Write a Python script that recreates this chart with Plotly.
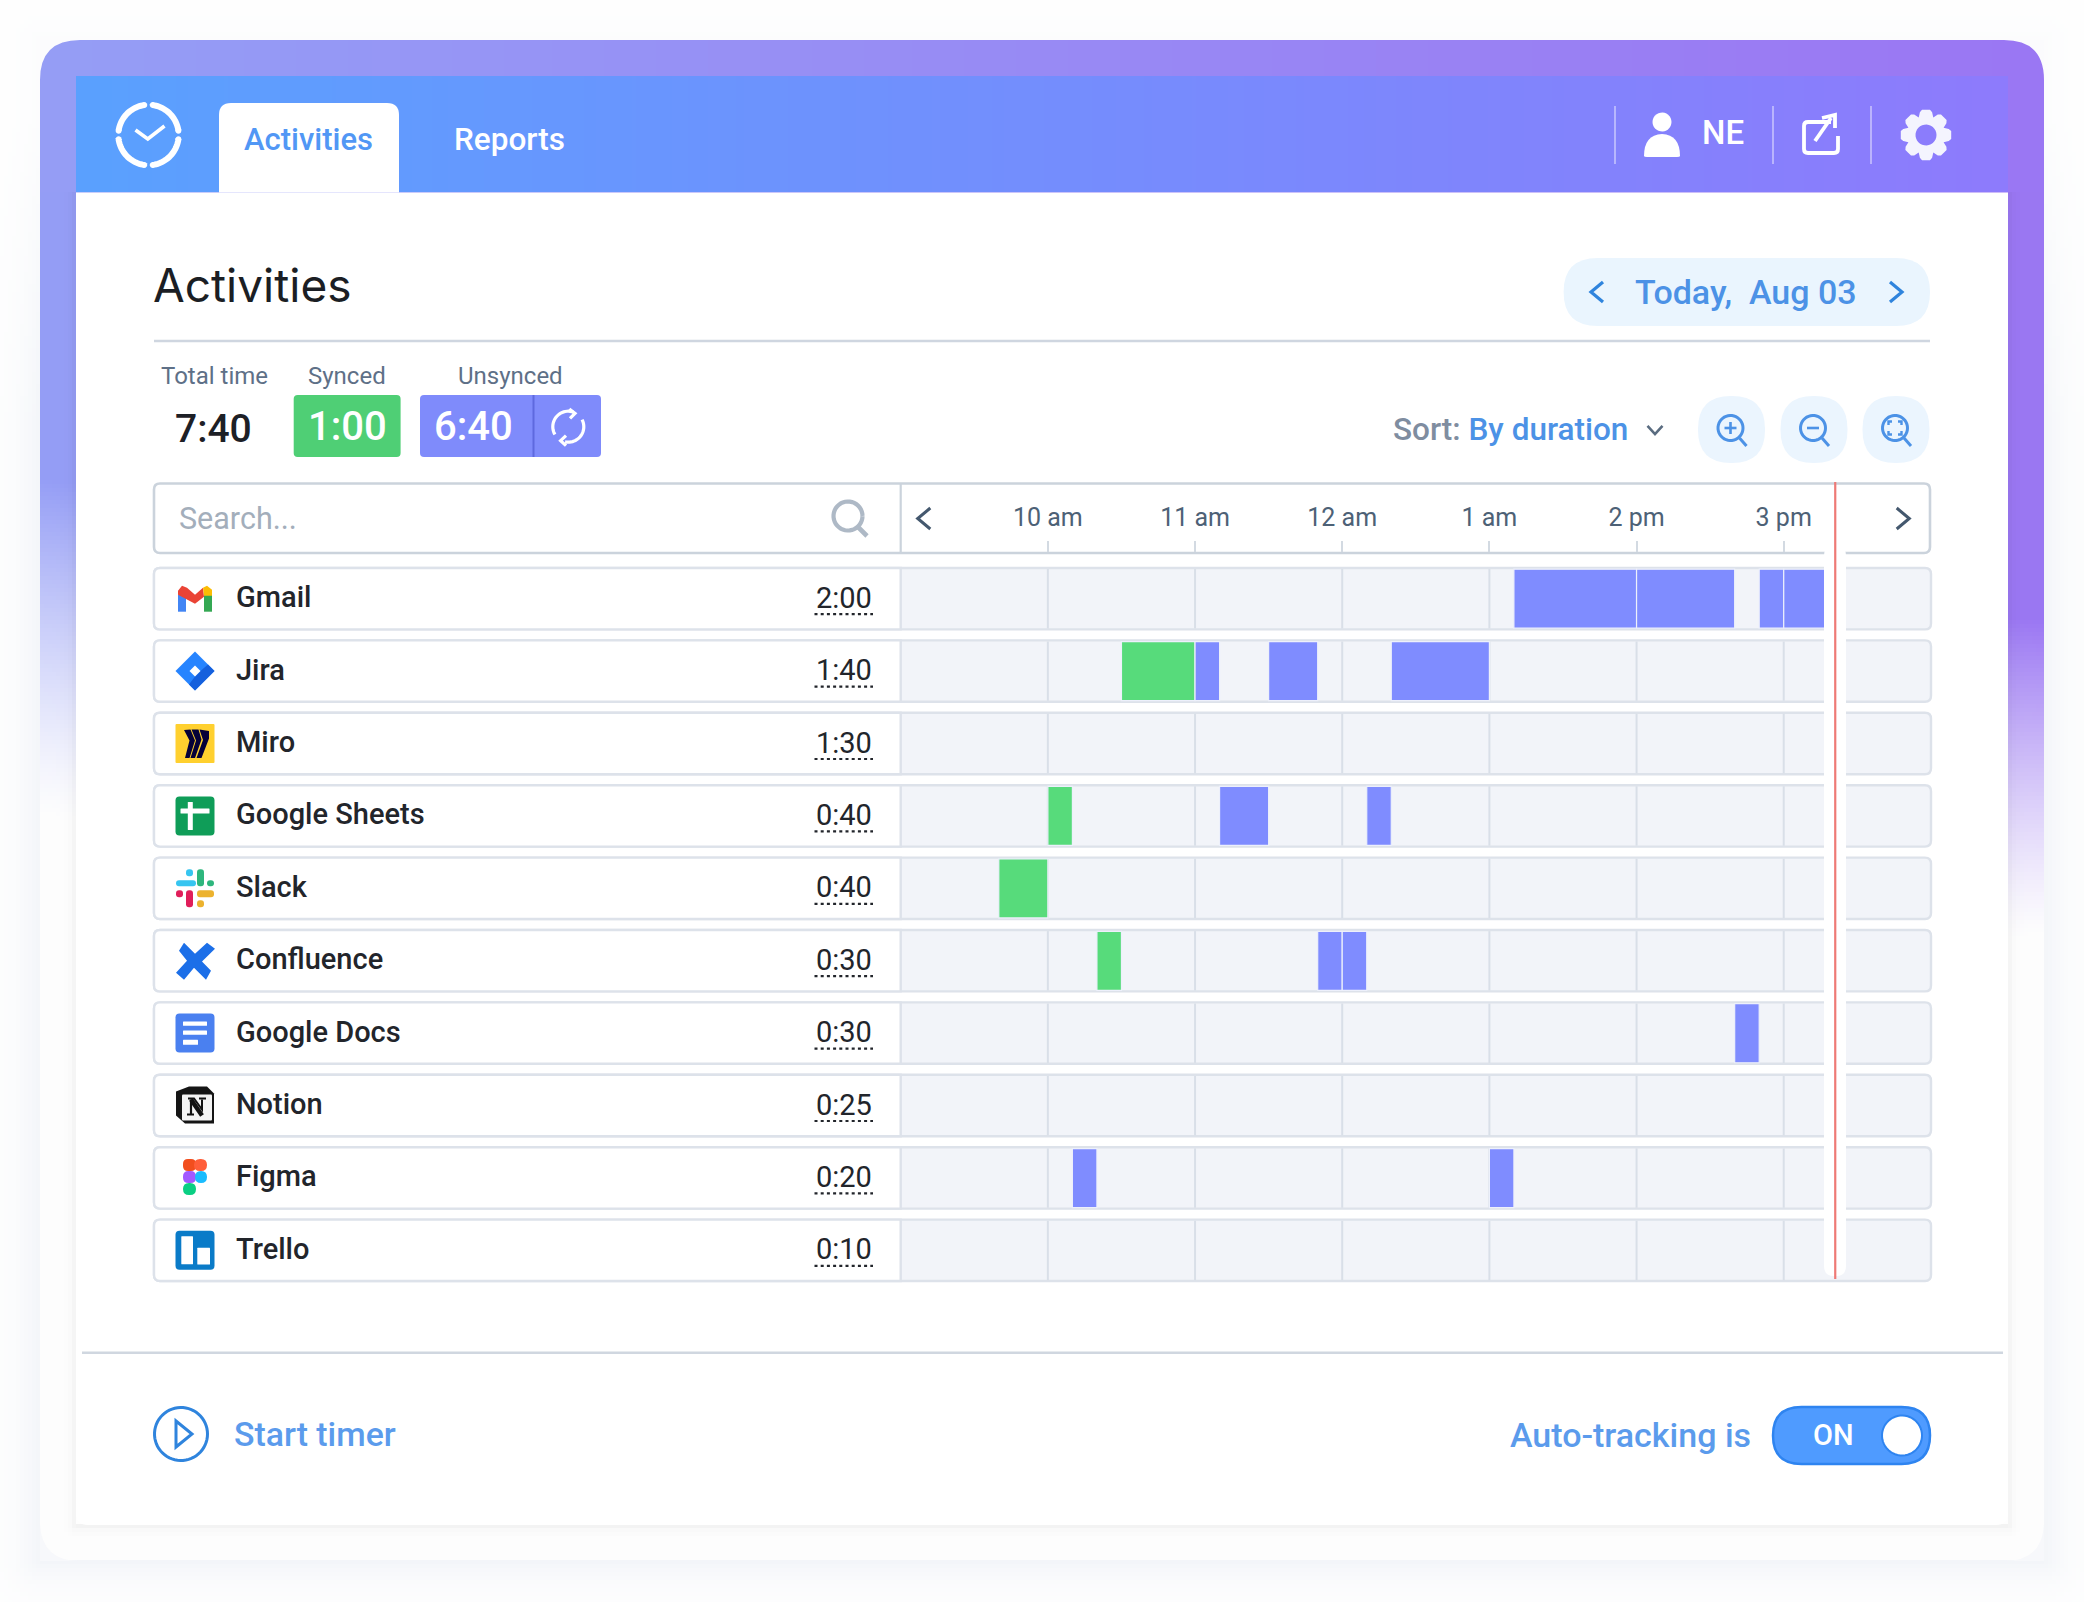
import numpy as np
import plotly.graph_objects as go

W, H = 2084, 1602

# app list and totals, top to bottom
apps = ["Gmail", "Jira", "Miro", "Google Sheets", "Slack", "Confluence",
        "Google Docs", "Notion", "Figma", "Trello"]
totals = ["2:00", "1:40", "1:30", "0:40", "0:40", "0:30", "0:30", "0:25", "0:20", "0:10"]

# tracked blocks, read from the timeline
synced_app = ["Jira", "Google Sheets", "Slack", "Confluence"]
synced_start = ["10:30", "10:00", "9:40", "10:20"]
synced_end = ["11:00", "10:10", "10:00", "10:30"]

unsynced_app = ["Gmail", "Gmail", "Gmail", "Gmail", "Jira", "Jira", "Jira",
                "Google Sheets", "Google Sheets", "Confluence", "Confluence",
                "Google Docs", "Figma", "Figma"]
unsynced_start = ["13:10", "14:00", "14:50", "15:00", "11:00", "11:30", "12:20",
                  "11:10", "12:10", "11:50", "12:00", "14:40", "10:10", "13:00"]
unsynced_end = ["14:00", "14:40", "15:00", "15:20", "11:10", "11:50", "13:00",
                "11:30", "12:20", "12:00", "12:10", "14:50", "10:20", "13:10"]

hour_ticks = ["10:00", "11:00", "12:00", "13:00", "14:00", "15:00"]
hour_labels = ["10 am", "11 am", "12 am", "1 am", "2 pm", "3 pm"]
view_start, view_end = "9:00", "16:00"
now_time = "15:21"


def minutes(t):
    h, m = t.split(":")
    return int(h) * 60 + int(m)


GREEN = "#57DB7B"
BLUE = "#7F8CFF"
ACCENT = "#4C92E6"
ROW_BG = "#F2F4F9"
BORDER = "#DDE2EA"

shapes = []
notes = []


def fx(x, y, x0=0, y0=0):
    return f"{x0 + x:.1f},{y0 + y:.1f}"


def rr(x0, y0, x1, y1, r):
    return (f"M{x0 + r},{y0} L{x1 - r},{y0} Q{x1},{y0} {x1},{y0 + r} L{x1},{y1 - r} "
            f"Q{x1},{y1} {x1 - r},{y1} L{x0 + r},{y1} Q{x0},{y1} {x0},{y1 - r} "
            f"L{x0},{y0 + r} Q{x0},{y0} {x0 + r},{y0} Z")


def arc(cx, cy, r, a0, a1, n=24, move=True):
    a = np.radians(np.linspace(a0, a1, n))
    pts = [f"{cx + r * np.cos(t):.2f},{cy + r * np.sin(t):.2f}" for t in a]
    return ("M" if move else "L") + " L".join(pts)


def poly(cx, cy, pts, close=True):
    s = "M" + " L".join(fx(x, y, cx, cy) for x, y in pts)
    return s + (" Z" if close else "")


def path(d, fill=None, line=None, w=0, layer="below", xref="x2", yref="y2", opacity=None):
    s = dict(type="path", path=d, xref=xref, yref=yref, layer=layer,
             fillcolor=fill if fill else "rgba(0,0,0,0)",
             line=dict(color=line if line else "rgba(0,0,0,0)", width=w))
    if opacity is not None:
        s["opacity"] = opacity
    shapes.append(s)


def seg(x0, y0, x1, y1, color, w=2, dash=None):
    shapes.append(dict(type="line", x0=x0, y0=y0, x1=x1, y1=y1, xref="x2", yref="y2", layer="below",
                       line=dict(color=color, width=w, dash=dash)))


def txt(x, y, text, size, color, anchor="center", weight=400, family="Roboto"):
    notes.append(dict(x=x, y=y, xref="x2", yref="y2", text=text, showarrow=False,
                      xanchor=anchor, yanchor="middle",
                      font=dict(family=family, size=size, color=color, weight=weight)))


def chevron(cx, cy, d, color, w=3.2, size=10):
    if d == "left":
        pts = [(size * .6, -size), (-size * .6, 0), (size * .6, size)]
    elif d == "right":
        pts = [(-size * .6, -size), (size * .6, 0), (-size * .6, size)]
    else:
        pts = [(-size, -size * .55), (0, size * .55), (size, -size * .55)]
    path(poly(cx, cy, pts, close=False), line=color, w=w)


def magnifier(cx, cy, kind):
    path(arc(cx - 1, cy - 2, 12.5, 0, 360, 40), line=ACCENT, w=3)
    seg(cx + 8, cy + 8, cx + 15, cy + 16, ACCENT, 3)
    if kind in ("plus", "minus"):
        seg(cx - 7, cy - 2, cx + 5, cy - 2, ACCENT, 2.6)
    if kind == "plus":
        seg(cx - 1, cy - 8, cx - 1, cy + 4, ACCENT, 2.6)
    if kind == "fit":
        for sx, sy in [(-1, -1), (1, -1), (1, 1), (-1, 1)]:
            path(poly(cx - 1, cy - 2, [(sx * 3, sy * 6.5), (sx * 6.5, sy * 6.5), (sx * 6.5, sy * 3)], close=False),
                 line=ACCENT, w=2.4)


# background picture: coloured frame fading to white, soft shadows, header band
bx = np.arange(0, W + 4, 4) + 2.0
by = np.arange(0, H + 4, 4) + 2.0
gx, gy = np.meshgrid(bx, by)
left = np.array([0x95, 0x9E, 0xF6], float)
right = np.array([0x9B, 0x77, 0xF3], float)
t = np.clip((gx - 40) / 2004, 0, 1)[..., None]
frame_rgb = left * (1 - t) + right * t
fade_a = 480 + 140 * t[..., 0]
fade_b = 820 + 120 * t[..., 0]
alpha = (np.clip((fade_b - gy) / (fade_b - fade_a), 0, 1) ** 1.25)[..., None]
img = frame_rgb * alpha + np.array([254, 254, 254.0]) * (1 - alpha)
# panel shadow inside the frame
pdx = np.maximum(np.maximum(76 - gx, gx - 2008), 0)
pdy = np.maximum(gy - 1525, 0)
pd_out = np.hypot(pdx, pdy)
pshade = np.where((pd_out > 0) & (gy > 192), 0.05 * np.exp(-pd_out / 5), 0)[..., None]
img = img * (1 - pshade)
# outer shadow
dx = np.maximum(np.maximum(40 - gx, gx - 2044), 0)
dy = np.maximum(np.maximum(40 - gy, gy - 1561), 0)
dist = np.hypot(dx, dy)
outside = dist > 0
shade = 12 * np.exp(-dist / 22) * np.clip((gy - 20) / 400, 0.25, 1)
out = np.stack([255 - shade * 1.0, 255 - shade * .8, 255 - shade * .5], axis=-1)
img[outside] = out[outside]
hdr = (gx >= 76) & (gx < 2008) & (gy >= 76) & (gy < 193)
ht = ((gx - 76) / 1932)[..., None]
hdr_rgb = np.array([0x5A, 0xA1, 0xFF], float) * (1 - ht) + np.array([0x8E, 0x7B, 0xFC], float) * ht
img[hdr] = hdr_rgb[hdr]
img = np.clip(img, 0, 255).astype(np.uint8)

# frame corners
for (cx, cy, sx, sy, c) in [(40, 40, 1, 1, "#FBFBFD"), (2044, 40, -1, 1, "#FBFBFD"),
                            (40, 1561, 1, -1, "#F7F8FB"), (2044, 1561, -1, -1, "#F7F8FB")]:
    r = 40
    path(f"M{cx},{cy} L{cx + sx * r},{cy} Q{cx},{cy} {cx},{cy + sy * r} Z", fill=c)

# main panel
path(f"M76,192.5 L2008,192.5 L2008,1513 Q2008,1525 1996,1525 L88,1525 Q76,1525 76,1513 Z", fill="#FFFFFF")

# header
path(f"M219,192.5 L219,115 Q219,103 231,103 L387,103 Q399,103 399,115 L399,192.5 Z", fill="#FFFFFF")
txt(308, 139.5, "Activities", 31, "#5197F5", weight=500)
txt(509, 139.5, "Reports", 31.5, "#FFFFFF", weight=500)
for a0, a1 in [(-82, -8), (8, 82), (98, 172), (188, 262)]:
    path(arc(148.5, 135, 30.2, a0, a1), line="#FFFFFF", w=6)
    for a in (a0, a1):
        ex = 148.5 + 30.2 * np.cos(np.radians(a))
        ey = 135 + 30.2 * np.sin(np.radians(a))
        path(arc(ex, ey, 3, 0, 360, 12) + " Z", fill="#FFFFFF")
path(poly(148.5, 135, [(-13, -5), (-0.7, 4), (16, -9)], close=False), line="#FFFFFF", w=3.6)
for sx in [1615, 1773, 1871]:
    seg(sx, 106, sx, 164, "rgba(255,255,255,0.42)", 2)
path(arc(1662, 122, 9.5, 0, 360, 30) + " Z", fill="#FFFFFF")
path("M1644,156 Q1644,135 1662,134 Q1680,135 1680,156 Q1680,157 1677,157 L1647,157 Q1644,157 1644,156 Z", fill="#FFFFFF")
txt(1723, 132, "NE", 33, "#FFFFFF", weight=500)
path(f"M1831,122 L1808,122 Q1804,122 1804,126 L1804,149 Q1804,153 1808,153 L1834,153 Q1838,153 1838,149 L1838,136",
     line="#FFFFFF", w=3.8)
path(poly(0, 0, [(1815, 141), (1831, 118)], close=False), line="#FFFFFF", w=3.8)
path(poly(0, 0, [(1822, 118), (1835, 115), (1835, 128)], close=False), line="#FFFFFF", w=3.8)
gear = []
for k in range(8):
    c = k * 45 - 90
    for off, rad in [(-15, 23.5), (-9, 25.5), (9, 25.5), (15, 23.5), (22.5, 19)]:
        a = np.radians(c + off)
        gear.append((rad * np.cos(a), rad * np.sin(a)))
hole = arc(1926, 135, 10.5, 360, 0, 30)
path(poly(1926, 135, gear) + " " + hole + " Z", fill="#F4F4FE")

# title block
txt(151, 285, "Activities", 46, "#1B1E24", anchor="left", family="Inter")
path(rr(1563.6, 258, 1930, 326, 34), fill="#EAF5FE")
txt(1746, 292, "Today,  Aug 03", 34, ACCENT, weight=500)
chevron(1597, 292, "left", "#2F84DD")
chevron(1896, 292, "right", "#2F84DD")
seg(154, 341, 1930, 341, "#CFD6E0", 2.6)

# totals
txt(214, 376, "Total time", 24, "#5E7087")
txt(346.5, 376, "Synced", 24, "#5E7087")
txt(510, 376, "Unsynced", 24, "#5E7087")
txt(213.5, 429, "7:40", 39, "#1D2026", weight=500)
path(rr(293.7, 395, 400.6, 457, 4), fill="#4FCF75")
txt(347, 426, "1:00", 40, "#FFFFFF", weight=500)
path(rr(420, 395, 601, 457, 4), fill="#7F8BFB")
seg(533.5, 395, 533.5, 457, "#5E69DF", 2)
txt(473, 426, "6:40", 40, "#FFFFFF", weight=500)
path(arc(568.3, 426.7, 15.5, 150, 289), line="#FFFFFF", w=3.2)
path(arc(568.3, 426.7, 15.5, -27, 102), line="#FFFFFF", w=3.2)
path(poly(568.3, 426.7, [(1, -17.7), (6.7, -13.3), (1.7, -8.3)], close=False), line="#FFFFFF", w=3.2)
path(poly(568.3, 426.7, [(-2.3, 9), (-7.7, 14), (-2.3, 19)], close=False), line="#FFFFFF", w=3.2)

# sort and zoom controls
txt(1391, 429.5, f"Sort: <span style='color:{ACCENT}'>By duration</span>", 31.5, "#7F8DA0", anchor="left", weight=500)
chevron(1655, 430, "down", "#5A6C80", w=2.6, size=7.5)
for cx, kind in [(1731.5, "plus"), (1814, "minus"), (1896, "fit")]:
    path(rr(cx - 33.5, 396, cx + 33.5, 463, 33), fill="#EBF5FE")
    magnifier(cx, 430, kind)

# search bar and time header
path(rr(154, 483.5, 1930, 553, 6), fill="#FFFFFF", line="#CBD3DC", w=2.6)
seg(900.7, 484, 900.7, 553, "#CBD3DC", 2.2)
txt(176.5, 518.5, "Search...", 30.5, "#A3AEBB", anchor="left")
path(arc(848, 516, 14.5, 0, 360, 40), line="#AEB9C6", w=4.2)
seg(858, 527, 867, 536, "#AEB9C6", 4.6)
chevron(924, 518.5, "left", "#44586E", w=3, size=10.5)
chevron(1903, 518.5, "right", "#44586E", w=3, size=10.5)

# rows
ROW0, PITCH = 598.7, 72.4
for i, (app, total) in enumerate(zip(apps, totals)):
    cy = ROW0 + PITCH * i
    top, bot = cy - 30.7, cy + 30.7
    path(rr(154, top, 1931, bot, 6), fill=ROW_BG, line=BORDER, w=2.4)
    path(f"M900.7,{top} L160,{top} Q154,{top} 154,{top + 6} L154,{bot - 6} Q154,{bot} 160,{bot} L900.7,{bot} Z",
         fill="#FFFFFF", line=BORDER, w=2.4)
    txt(233.5, cy - 1.5, app, 29, "#22252B", anchor="left", weight=500)
    txt(873.5, cy - 1, total, 29, "#22252B", anchor="right", weight=400)
    seg(814.5, cy + 15.5, 873, cy + 15.5, "#22252B", 2.2, dash="3px,3.2px")

    ix, iy = 195, cy
    if app == "Gmail":
        path(poly(ix, iy, [(-17, -4), (-9, -4), (-9, 13), (-17, 13)]), fill="#4285F4")
        path(poly(ix, iy, [(9, -4), (17, -4), (17, 13), (9, 13)]), fill="#34A853")
        path(poly(ix, iy, [(-17, -8), (-13, -13), (-8, -11), (0, -4), (8, -11), (9, -2), (0, 5), (-17, -4)]), fill="#EA4335")
        path(poly(ix, iy, [(8, -11), (12, -13), (17, -9), (17, -3), (9, -3)]), fill="#FBBC04")
    elif app == "Jira":
        path(poly(ix, iy, [(0, -19.5), (19.5, 0), (0, 19.5), (-19.5, 0)]), fill="#2684FF")
        path(poly(ix, iy, [(13, -6.5), (19.5, 0), (0, 19.5), (-6, 13.5), (0, 5.5), (5.5, 0)]), fill="#1560DD")
        path(poly(ix, iy, [(0, -5.5), (5.5, 0), (0, 5.5), (-5.5, 0)]), fill="#FFFFFF")
    elif app == "Miro":
        path(rr(ix - 19.5, iy - 19.5, ix + 19.5, iy + 19.5, 1), fill="#FFD02F")
        for blade in [[(-11, -13.5), (-4.5, -14), (0, -3), (-5.5, 14.5), (-10, 14.5), (-5.5, -3)],
                      [(-3.5, -14), (3.5, -14), (6.5, -4), (0, 14.5), (-4.5, 14.5), (1, -3)],
                      [(4.5, -14), (14, -12.5), (14, -5), (6.5, 14.5), (1.5, 14.5), (8, -3.5)]]:
            path(poly(ix, iy, blade), fill="#050038")
    elif app == "Google Sheets":
        path(rr(ix - 19.5, iy - 19.5, ix + 19.5, iy + 19.5, 4), fill="#0F9D58")
        path(rr(ix - 14.5, iy - 7.5, ix + 14.5, iy - 2.5, 0.5), fill="#FFFFFF")
        path(rr(ix - 7.2, iy - 14, ix - 2.2, iy + 14, 0.5), fill="#FFFFFF")
    elif app == "Slack":
        for x0, y0, x1, y1, col in [(-19, -8, 1, -2, "#36C5F0"), (-9, -19, -2, -12, "#36C5F0"),
                                    (2, -19, 9, -2, "#2EB67D"), (12, -8, 19, -2, "#2EB67D"),
                                    (2, 2, 19, 9, "#ECB22E"), (2, 12, 9, 19, "#ECB22E"),
                                    (-9, 2, -2, 19, "#E01E5A"), (-19, 2, -12, 9, "#E01E5A")]:
            path(rr(ix + x0, iy + y0, ix + x1, iy + y1, 3), fill=col)
    elif app == "Confluence":
        path(poly(ix, iy, [(-16, -10), (-11, -18), (0, -7), (12, -18), (20, -12), (7, 0.7), (16, 10),
                           (11, 19), (-1, 7), (-11, 19), (-19, 12), (-8, 0)]), fill="#1C6FE8")
    elif app == "Google Docs":
        path(rr(ix - 19.5, iy - 19.5, ix + 19.5, iy + 19.5, 4), fill="#4A80F0")
        path(rr(ix - 12, iy - 11.7, ix + 12, iy - 7.3, 0.5), fill="#FFFFFF")
        path(rr(ix - 12, iy - 2.7, ix + 12, iy + 1.7, 0.5), fill="#FFFFFF")
        path(rr(ix - 12, iy + 6.7, ix + 3, iy + 11.7, 0.5), fill="#FFFFFF")
    elif app == "Notion":
        path(poly(ix, iy, [(-19, -14), (-6, -19), (12, -19), (19, -12), (19, 18), (-10, 18), (-19, 10)]), fill="#151515")
        path(rr(ix - 13, iy - 11, ix + 17, iy + 15, 1), fill="#F4F4F4")
        path(poly(ix, iy, [(-7, -7), (-1, -7), (7, 4), (7, -6)], close=False), line="#111111", w=2)
        path(poly(ix, iy, [(-4, -6), (7, 10)], close=False), line="#111111", w=4.5)
        path(poly(ix, iy, [(-4, -6), (-4, 9)], close=False), line="#111111", w=2.2)
        path(poly(ix, iy, [(4, -7), (11, -7)], close=False), line="#111111", w=2)
        path(poly(ix, iy, [(-8, 9), (-1, 9)], close=False), line="#111111", w=2)
    elif app == "Figma":
        path(rr(ix - 12, iy - 19, ix + 1, iy - 7, 5), fill="#F24E1E")
        path(rr(ix - 1, iy - 19, ix + 12, iy - 7, 6), fill="#FF5E3A")
        path(rr(ix - 12, iy - 7, ix + 1, iy + 5, 5.5), fill="#A259FF")
        path(rr(ix, iy - 7, ix + 12, iy + 5, 6), fill="#1ABCFE")
        path(rr(ix - 12, iy + 5, ix + 1, iy + 17, 6), fill="#0ACF83")
    elif app == "Trello":
        path(rr(ix - 19.5, iy - 19.5, ix + 19.5, iy + 19.5, 4), fill="#0A7BC8")
        path(rr(ix - 13.7, iy - 14, ix - 2, iy + 14, 0.5), fill="#FFFFFF")
        path(rr(ix + 2.3, iy - 2.5, ix + 15, iy + 14.3, 0.5), fill="#FFFFFF")

# footer
seg(82, 1352.7, 2003, 1352.7, "#D0D7E0", 2.6)
path(arc(181, 1434, 26.5, 0, 360, 60), line="#2F84DD", w=3)
path(poly(181, 1434, [(-5, -13), (11, 0), (-5, 13)]), line="#2F84DD", w=3)
txt(231.5, 1434, "Start timer", 33.8, "#5B9BEC", anchor="left", weight=500)
txt(1752.5, 1434.5, "Auto-tracking is", 34, "#5B9BEC", anchor="right", weight=500)
path(rr(1773, 1407, 1930, 1464, 28.5), fill="#4F9BFF", line="#2E84F0", w=2.5)
txt(1833, 1435, "ON", 29, "#FFFFFF", weight=500)
path(arc(1902, 1435.5, 20, 0, 360, 50) + " Z", fill="#FFFFFF", line="#2E84F0", w=2)

# hour grid inside each row, on the time axis
for tick in hour_ticks:
    for i in range(len(apps)):
        shapes.append(dict(type="line", x0=minutes(tick), x1=minutes(tick), y0=i - 0.41, y1=i + 0.41,
                           xref="x3", yref="y3", layer="below", line=dict(color="#D9DFE8", width=2)))

# white gap around the now line, then the line itself
nowx = minutes(now_time)
path(rr(1824, 546, 1846, 1276, 10), fill="#FFFFFF", layer="above")
shapes.append(dict(type="line", x0=nowx, x1=nowx, y0=482, y1=1279, xref="x3", yref="y2", layer="above",
                   line=dict(color="#EE7A76", width=2.2)))

fig = go.Figure()
fig.add_trace(go.Image(z=img, x0=2, y0=2, dx=4, dy=4, xaxis="x", yaxis="y", hoverinfo="skip"))
fig.add_trace(go.Scatter(x=[0], y=[0], mode="markers", marker=dict(opacity=0), xaxis="x2", yaxis="y2",
                         hoverinfo="skip", showlegend=False))
for name, who, start, end, color in [("Synced", synced_app, synced_start, synced_end, GREEN),
                                     ("Unsynced", unsynced_app, unsynced_start, unsynced_end, BLUE)]:
    s = [minutes(v) for v in start]
    e = [minutes(v) for v in end]
    fig.add_trace(go.Bar(name=name, y=who, base=s, x=[b - a for a, b in zip(s, e)], orientation="h",
                         width=0.815, marker=dict(color=color, line=dict(color="#EDF0FB", width=1.2)),
                         xaxis="x3", yaxis="y3", showlegend=False))

hidden = dict(visible=False, showgrid=False, zeroline=False)
fig.update_layout(
    width=W, height=H, autosize=False, margin=dict(l=0, r=0, t=0, b=0),
    paper_bgcolor="#FFFFFF", plot_bgcolor="rgba(0,0,0,0)", showlegend=False, barmode="overlay",
    shapes=shapes, annotations=notes,
    xaxis=dict(domain=[0, 1], range=[0, W], anchor="y", **hidden),
    yaxis=dict(domain=[0, 1], range=[H, 0], anchor="x", **hidden),
    xaxis2=dict(domain=[0, 1], range=[0, W], anchor="y2", **hidden),
    yaxis2=dict(domain=[0, 1], range=[H, 0], anchor="x2", **hidden),
    xaxis3=dict(domain=[900.7 / W, 1930.9 / W], range=[minutes(view_start), minutes(view_end)], anchor="y3",
                side="top", tickmode="array", tickvals=[minutes(v) for v in hour_ticks], ticktext=hour_labels,
                ticks="outside", ticklen=11, tickwidth=2, tickcolor="#D3DAE2", showgrid=False, zeroline=False,
                showline=False, ticklabelstandoff=5, tickfont=dict(family="Roboto", size=25, color="#4D6176")),
    yaxis3=dict(domain=[1 - 1286.7 / H, 1 - 553 / H], anchor="x3", type="category", categoryorder="array",
                categoryarray=apps, range=[9.5, -0.631], showgrid=False, zeroline=False, showline=False,
                showticklabels=False, ticks=""),
)

fig.write_html("out.html", config={"displayModeBar": False},
               post_script="document.body.style.margin='0';")
